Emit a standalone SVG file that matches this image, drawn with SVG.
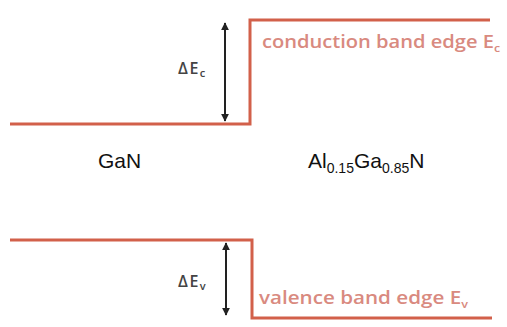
<svg xmlns="http://www.w3.org/2000/svg" width="507" height="327" viewBox="0 0 507 327">
<style>
.band{fill:none;stroke:#d2604a;stroke-width:3}
.arr{stroke:#222;stroke-width:2;marker-start:url(#ah);marker-end:url(#ah)}
.lbl{font-family:"Open Sans","Liberation Sans",sans-serif;font-size:18px;font-weight:600;fill:#d98a80}
.dl{font-family:"Open Sans","Liberation Sans",sans-serif;font-size:16px;font-weight:600;letter-spacing:1.5px;fill:#444}
.mat{font-family:"Liberation Sans",Arial,sans-serif;font-size:21px;fill:#111}
</style>
<defs>
<marker id="ah" viewBox="0 0 10 10" refX="9" refY="5" markerWidth="4" markerHeight="4" orient="auto-start-reverse">
<path d="M0,0 L10,5 L0,10 z" fill="#222"/>
</marker>
</defs>
<rect width="507" height="327" fill="#fff"/>
<g id="conduction">
<polyline class="band" points="10,124 250,124 250,20 490,20"/>
<text class="lbl" x="262" y="48" textLength="238" lengthAdjust="spacingAndGlyphs">conduction band edge E<tspan font-size="11" dy="4">c</tspan></text>
</g>
<g id="valence">
<polyline class="band" points="10,240 252,240 252,318 492,318"/>
<text class="lbl" x="259" y="304" textLength="209" lengthAdjust="spacingAndGlyphs">valence band edge E<tspan font-size="11" dy="4">v</tspan></text>
</g>
<g id="connectors">
<line class="arr" x1="225" y1="23" x2="225" y2="121"/>
<line class="arr" x1="226" y1="243" x2="226" y2="315"/>
</g>
<g id="dEc"><text class="dl" x="178" y="74">ΔE<tspan font-size="11" dy="3">c</tspan></text></g>
<g id="dEv"><text class="dl" x="178" y="287">ΔE<tspan font-size="11" dy="3">v</tspan></text></g>
<g id="gan"><text class="mat" x="98" y="168">GaN</text></g>
<g id="algan"><text class="mat" x="308" y="168">Al<tspan font-size="14" dy="5">0.15</tspan><tspan dy="-5">Ga</tspan><tspan font-size="14" dy="5">0.85</tspan><tspan dy="-5">N</tspan></text></g>
</svg>
